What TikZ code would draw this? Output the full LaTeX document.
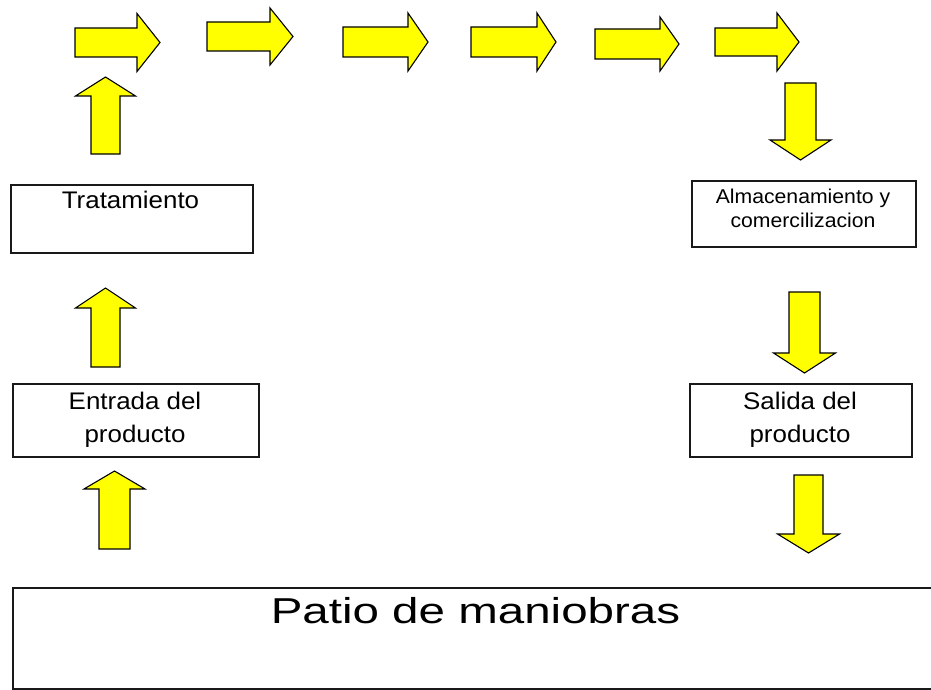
\documentclass[tikz,border=0pt]{standalone}
\usepackage{fontspec}
\setmainfont{Liberation Sans}
\usepackage{graphicx}
\definecolor{arrowyellow}{RGB}{255,255,0}
\newcommand\sxx[1]{\scalebox{1.08}[1]{#1}}
\newcommand\sxs[1]{\scalebox{1.06}[1]{#1}}
\begin{document}
\begin{tikzpicture}[x=1pt,y=-1pt,
  box/.style={draw=black!90, line width=1.6pt, fill=white, inner sep=0pt, anchor=north west},
  lbl/.style={inner sep=0pt, align=center, anchor=base, font=\fontsize{24}{32.5}\selectfont},
  small/.style={inner sep=0pt, align=center, anchor=base, font=\fontsize{20}{24}\selectfont},
  big/.style={inner sep=0pt, anchor=base, font=\fontsize{36}{40}\selectfont},
  pics/barrow/.style n args={4}{code={
     \draw[fill=arrowyellow, draw=black, line width=1.1pt, line join=miter]
       (0,-#3) -- (#2,-#3) -- (#2,-#4) -- (#1,0) -- (#2,#4) -- (#2,#3) -- (0,#3) -- cycle;}}
]
\useasboundingbox[fill=white] (0,0) rectangle (931,690);

% boxes
\node[box, minimum width=242pt, minimum height=68pt] (trat) at (10,184) {};
\node[box, minimum width=246pt, minimum height=73pt] (entr) at (12,383) {};
\node[box, minimum width=224pt, minimum height=66pt] (alma) at (691,180) {};
\node[box, minimum width=222pt, minimum height=73pt] (sali) at (689,383) {};
\begin{scope}
  \clip (0,0) rectangle (931,690);
  \node[box, minimum width=927pt, minimum height=101pt] (patio) at (12,587) {};
\end{scope}

% labels (anchor base = baseline of the last line)
\node[lbl] (tratT) at (130.5,208) {\sxx{Tratamiento}};
\node[lbl] (entrT) at (135,442) {\sxx{Entrada del}\\\sxx{producto}};
\node[small] (almaT) at (803,227) {\sxs{Almacenamiento y}\\\sxs{comercilizacion}};
\node[lbl] (saliT) at (800,442) {\sxx{Salida del}\\\sxx{producto}};
\node[big] (patioT) at (475.5,623) {\scalebox{1.32}[1]{Patio de maniobras}};

% right arrows along the top
\pic (r1) at (75,42.5) {barrow={85}{62}{14.5}{29}};
\pic (r2) at (207,36.5) {barrow={86}{63}{14.5}{28.5}};
\pic (r3) at (343,42) {barrow={85}{65}{15}{29}};
\pic (r4) at (471,42) {barrow={85}{66}{15}{29}};
\pic (r5) at (595,44) {barrow={84}{65}{15}{27}};
\pic (r6) at (715,42) {barrow={84}{62}{14}{29}};

% up arrows on the left
\pic[rotate=90] (u1) at (105.5,154) {barrow={77}{58}{14.5}{30}};
\pic[rotate=90] (u2) at (105.5,367) {barrow={79}{59}{14.5}{30}};
\pic[rotate=90] (u3) at (114.5,549) {barrow={78}{60}{15.5}{30.5}};

% down arrows on the right
\pic[rotate=-90] (d1) at (800.5,83) {barrow={77}{57}{15.5}{30.5}};
\pic[rotate=-90] (d2) at (804.5,292) {barrow={81}{61}{15.5}{31}};
\pic[rotate=-90] (d3) at (808.5,475) {barrow={78}{59}{14.5}{31}};
\end{tikzpicture}
\end{document}
